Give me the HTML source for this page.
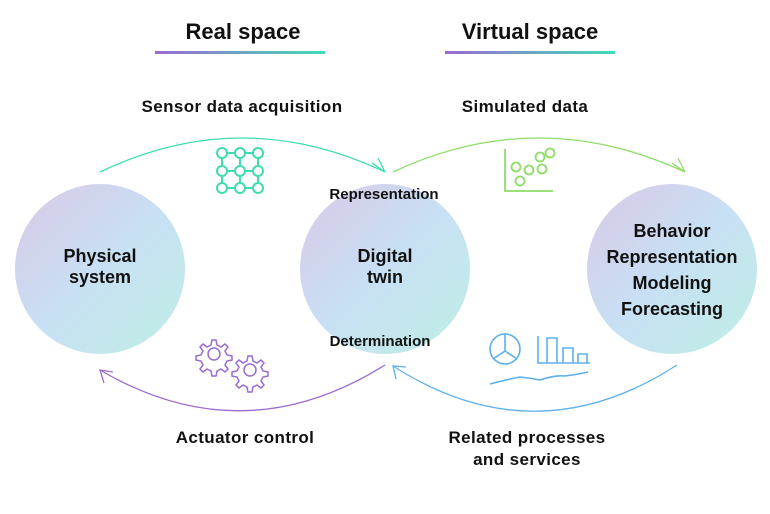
<!DOCTYPE html>
<html><head><meta charset="utf-8"><style>
body{margin:0;background:#fff;width:770px;height:509px;overflow:hidden}
svg text{font-family:"Liberation Sans",Arial,sans-serif;fill:#111}
.lb{font-size:17px;font-weight:bold;letter-spacing:0.4px}
</style></head><body>
<svg width="770" height="509" viewBox="0 0 770 509">
<defs>
<linearGradient id="g" x1="0" y1="0" x2="1" y2="1">
<stop offset="0" stop-color="#d9c8e6"/><stop offset="0.5" stop-color="#c8e0f4"/><stop offset="1" stop-color="#bfeee3"/>
</linearGradient>
<linearGradient id="u1" x1="0" x2="1"><stop offset="0" stop-color="#9b6bd0"/><stop offset="1" stop-color="#3fdcb8"/></linearGradient>
</defs>
<text x="243" y="39" font-size="22" font-weight="bold" text-anchor="middle">Real space</text>
<rect x="155" y="51" width="170" height="3" fill="url(#u1)"/>
<text x="530" y="39" font-size="22" font-weight="bold" text-anchor="middle">Virtual space</text>
<rect x="445" y="51" width="170" height="3" fill="url(#u1)"/>
<text x="242" y="112" class="lb" text-anchor="middle">Sensor data acquisition</text>
<text x="525" y="112" class="lb" text-anchor="middle">Simulated data</text>
<text x="245" y="443" class="lb" text-anchor="middle">Actuator control</text>
<text x="527" y="443" class="lb" text-anchor="middle">Related processes</text>
<text x="527" y="465" class="lb" text-anchor="middle">and services</text>

<circle cx="100" cy="269" r="85" fill="url(#g)"/>
<circle cx="385" cy="269" r="85" fill="url(#g)"/>
<circle cx="672" cy="269" r="85" fill="url(#g)"/>
<g font-size="18" font-weight="bold" text-anchor="middle">
<text x="100" y="262">Physical</text><text x="100" y="283">system</text>
<text x="385" y="262">Digital</text><text x="385" y="283">twin</text>
<text x="672" y="237">Behavior</text><text x="672" y="263">Representation</text>
<text x="672" y="289">Modeling</text><text x="672" y="315">Forecasting</text>
</g>
<text x="384" y="199" font-size="15" font-weight="bold" text-anchor="middle">Representation</text>
<text x="380" y="346" font-size="15" font-weight="bold" text-anchor="middle">Determination</text>

<g fill="none" stroke-width="1.3">
<path d="M100 172 Q242 104 385 172" stroke="#3fdcb0"/>
<path d="M372 163 L385 172 L378 158" stroke="#3fdcb0"/>
<path d="M393 172 Q538 104 685 172" stroke="#8edc6a"/>
<path d="M672 163 L685 172 L678 158" stroke="#8edc6a"/>
<path d="M385 365 Q243 454 100 370" stroke="#9b6bd0"/>
<path d="M104 383 L100 370 L113 372" stroke="#9b6bd0"/>
<path d="M677 365 Q535 457 393 366" stroke="#5db0ea"/>
<path d="M396 379 L393 366 L406 367" stroke="#5db0ea"/>
</g>

<g fill="none" stroke="#3fdcb0" stroke-width="2">
<path d="M222 153H258V188H222ZM222 171H258M240 153V188"/>
<g fill="#fff"><circle cx="222" cy="153" r="5"/><circle cx="240" cy="153" r="5"/><circle cx="258" cy="153" r="5"/>
<circle cx="222" cy="171" r="5"/><circle cx="240" cy="171" r="5"/><circle cx="258" cy="171" r="5"/>
<circle cx="222" cy="188" r="5"/><circle cx="240" cy="188" r="5"/><circle cx="258" cy="188" r="5"/></g>
</g>

<g fill="none" stroke="#8edc6a" stroke-width="1.8">
<path d="M505 149V191H553"/>
<circle cx="516" cy="167" r="4.5"/><circle cx="529" cy="170" r="4.5"/><circle cx="542" cy="169" r="4.5"/>
<circle cx="540" cy="157" r="4.5"/><circle cx="550" cy="153" r="4.5"/><circle cx="520" cy="181" r="4.5"/>
</g>

<g fill="none" stroke="#9b6bd0" stroke-width="1.5">
<path d="M212 340l4 0 1 5 4 2 4-3 3 3-3 4 2 4 5 1v4l-5 1-2 4 3 4-3 3-4-3-4 2-1 5h-4l-1-5-4-2-4 3-3-3 3-4-2-4-5-1v-4l5-1 2-4-3-4 3-3 4 3 4-2z"/>
<circle cx="214" cy="354" r="6"/>
<path d="M248 356l4 0 1 5 4 2 4-3 3 3-3 4 2 4 5 1v4l-5 1-2 4 3 4-3 3-4-3-4 2-1 5h-4l-1-5-4-2-4 3-3-3 3-4-2-4-5-1v-4l5-1 2-4-3-4 3-3 4 3 4-2z"/>
<circle cx="250" cy="370" r="6"/>
</g>

<g fill="none" stroke="#5db0ea" stroke-width="1.6">
<circle cx="505" cy="349" r="15"/><path d="M505 334V351L493 359M505 351L517 359"/>
<path d="M538 336V363H590M538 363V336M547 363V338H557V363M563 363V348H573V363M578 363V354H587V363"/>
<path d="M490 384Q505 380 520 377Q530 378 540 380Q555 375 565 376Q580 374 588 372"/>
</g>
</svg>
</body></html>
